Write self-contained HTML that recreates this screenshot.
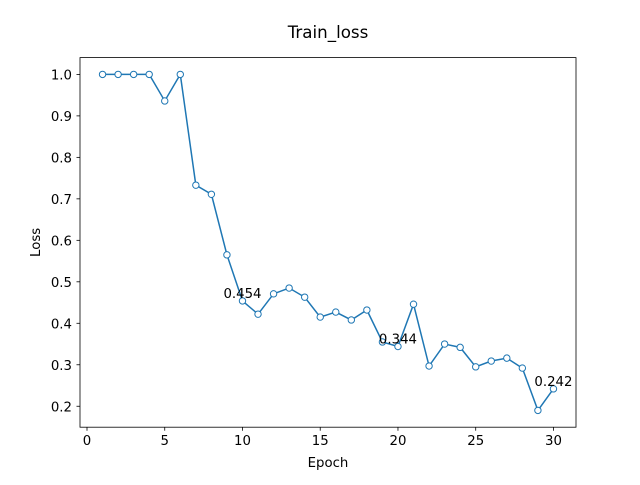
<!DOCTYPE html>
<html><head><meta charset="utf-8"><style>
body{margin:0;background:#fff;}
svg text{font-family:"DejaVu Sans","Liberation Sans",sans-serif;}
</style></head><body>
<svg id="chart" width="640" height="480">
<rect width="640" height="480" fill="#fff"/>
<text x="328" y="38" font-size="16.7" text-anchor="middle">Train_loss</text>
<g id="axes"></g>
<g id="marks"></g>
</svg>
<script>
const epochs=[1,2,3,4,5,6,7,8,9,10,11,12,13,14,15,16,17,18,19,20,21,22,23,24,25,26,27,28,29,30];
const losses=[1.0,1.0,1.0,1.0,0.936,1.0,0.733,0.711,0.565,0.454,0.422,0.471,0.485,0.463,0.415,0.427,0.408,0.432,0.355,0.344,0.446,0.297,0.35,0.342,0.295,0.309,0.316,0.292,0.19,0.242];
const xTicks=[0,5,10,15,20,25,30];
const yTicks=[0.2,0.3,0.4,0.5,0.6,0.7,0.8,0.9,1.0];
const annotated=[10,20,30];
const L=80,R=576,T=57.6,B=427.2;
const xmin=-0.45,xmax=31.45,ymin=0.1495,ymax=1.0405;
const sx=v=>L+(v-xmin)/(xmax-xmin)*(R-L);
const sy=v=>B-(v-ymin)/(ymax-ymin)*(B-T);
const NS="http://www.w3.org/2000/svg";
function mk(tag,attrs,parent){const e=document.createElementNS(NS,tag);for(const k in attrs)e.setAttribute(k,attrs[k]);parent.appendChild(e);return e;}
const ax=document.getElementById('axes'),mg=document.getElementById('marks');
xTicks.forEach(t=>{
 const l=mk('line',{x1:sx(t),x2:sx(t),y1:B,y2:B+3.5,stroke:'#000','stroke-width':0.8},ax);
 
 
 const tx=mk('text',{x:sx(t),y:B+18,'font-size':13.3,'text-anchor':'middle'},ax);tx.textContent=t;
 
 
});
yTicks.forEach(t=>{
 const l=mk('line',{x1:L-3.5,x2:L,y1:sy(t),y2:sy(t),stroke:'#000','stroke-width':0.8},ax);
 
 
 const tx=mk('text',{x:L-8,y:sy(t)+5,'font-size':13.3,'text-anchor':'end'},ax);tx.textContent=t.toFixed(1);
 
 
});
const fr=mk('rect',{x:L,y:T,width:R-L,height:B-T,fill:'none',stroke:'#000','stroke-width':0.8},ax);


const xl=mk('text',{x:(L+R)/2,y:467,'font-size':13.3,'text-anchor':'middle'},ax);xl.textContent='Epoch';


const yl=mk('text',{x:0,y:0,'font-size':13.3,'text-anchor':'middle',transform:`translate(40,${(T+B)/2}) rotate(-90)`},ax);yl.textContent='Loss';


const pts=epochs.map((e,i)=>sx(e)+','+sy(losses[i])).join(' ');
const pl=mk('polyline',{points:pts,fill:'none',stroke:'#1f77b4','stroke-width':1.5},mg);


epochs.forEach((e,i)=>{
 const c=mk('circle',{cx:sx(e),cy:sy(losses[i]),r:3.2,fill:'#fff',stroke:'#1f77b4','stroke-width':1},mg);
 
 
});
annotated.forEach(e=>{
 const i=epochs.indexOf(e);
 const tx=mk('text',{x:sx(e),y:sy(losses[i])-3,'font-size':13.3,'text-anchor':'middle'},mg);
 tx.textContent=losses[i].toFixed(3);
 
 
});
</script>
</body></html>
